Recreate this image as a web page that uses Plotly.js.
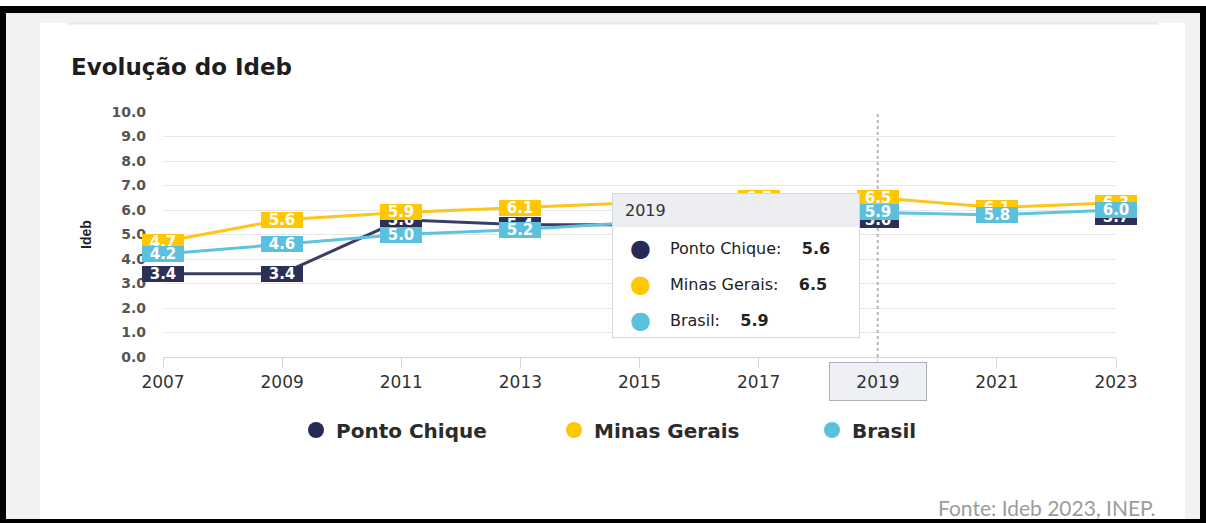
<!DOCTYPE html>
<html>
<head>
<meta charset="utf-8">
<script src="https://cdn.plot.ly/plotly-3.0.1.min.js"></script>
<style>
html,body{margin:0;padding:0;background:#fff;}
#chart{width:1206px;height:523px;}
</style>
</head>
<body>
<div id="chart"></div>
<script>
// ---- data ----
const years = [2007, 2009, 2011, 2013, 2015, 2017, 2019, 2021, 2023];
const yearLabels = ["2007", "2009", "2011", "2013", "2015", "2017", "2019", "2021", "2023"];
const pontoChique = [3.4, 3.4, 5.6, 5.4, 5.4, 5.6, 5.6, null, 5.7];
const minasGerais = [4.7, 5.6, 5.9, 6.1, 6.3, 6.5, 6.5, 6.1, 6.3];
const brasil = [4.2, 4.6, 5.0, 5.2, 5.5, 5.8, 5.9, 5.8, 6.0];
const seriesNames = ["Ponto Chique", "Minas Gerais", "Brasil"];
const yTicks = [0, 1, 2, 3, 4, 5, 6, 7, 8, 9, 10];
const hoverYear = 2019;

// ---- styles ----
const W = 1206, H = 523;
const px = v => v / W;
const py = v => 1 - v / H;
const lineColors = ["#3b3e64", "#ffc61a", "#5fc2de"];
const boxColors = ["#2d3056", "#ffc700", "#5bc0dd"];
const legendColors = ["#252b56", "#ffc700", "#5bc0dd"];
const seriesData = [pontoChique, minasGerais, brasil];
const SANS = "DejaVu Sans, Verdana, sans-serif";

const traces = seriesData.map((vals, i) => ({
  x: years, y: vals, type: "scatter", mode: "lines",
  name: seriesNames[i], showlegend: false, hoverinfo: "skip",
  connectgaps: false, cliponaxis: false,
  line: {color: lineColors[i], width: 3}
}));
seriesData.forEach((vals, i) => traces.push({
  x: [null], y: [null], type: "scatter", mode: "markers",
  name: seriesNames[i], showlegend: true, hoverinfo: "skip",
  marker: {color: legendColors[i], size: 16}
}));

const annotations = [];
// data labels
seriesData.forEach((vals, i) => {
  vals.forEach((v, j) => {
    if (v === null) return;
    annotations.push({
      x: years[j], y: v, xref: "x", yref: "y", showarrow: false,
      xanchor: "center", yanchor: "middle",
      text: v.toFixed(1), width: 40, height: 14, borderpad: 1,
      bgcolor: boxColors[i], borderwidth: 0,
      font: {family: SANS, size: 15, color: "#ffffff", weight: "bold"}
    });
  });
});
// title
annotations.push({
  x: px(69), y: py(67), xref: "paper", yref: "paper", showarrow: false,
  xanchor: "left", yanchor: "middle", text: "Evolução do Ideb",
  font: {family: SANS, size: 23, color: "#1e1e1e", weight: "bold"}
});
// footer
annotations.push({
  x: px(1158), y: py(507), xref: "paper", yref: "paper", showarrow: false,
  xanchor: "right", yanchor: "middle", text: "Fonte: Ideb 2023, INEP.",
  font: {family: "Lato, sans-serif", size: 21, color: "#9c9c9c"}
});
// crosshair x label
const hi = years.indexOf(hoverYear);
annotations.push({
  x: hoverYear, y: py(381), xref: "x", yref: "paper", showarrow: false,
  xanchor: "center", yanchor: "middle", text: yearLabels[hi],
  width: 96, height: 37, borderpad: 0, borderwidth: 1,
  bordercolor: "#a9b0b8", bgcolor: "#eef0f3",
  font: {family: SANS, size: 17, color: "#333333"}
});
// tooltip box
annotations.push({
  x: px(612), y: py(193), xref: "paper", yref: "paper", showarrow: false,
  xanchor: "left", yanchor: "top", text: "\u00a0",
  width: 246, height: 143, borderpad: 0, borderwidth: 1,
  bordercolor: "#d3d7dc", bgcolor: "#ffffff"
});
annotations.push({
  x: px(613), y: py(194), xref: "paper", yref: "paper", showarrow: false,
  xanchor: "left", yanchor: "top", text: "\u00a0",
  width: 246, height: 33, borderpad: 0, borderwidth: 0, bgcolor: "#eceef1"
});
annotations.push({
  x: px(623), y: py(210), xref: "paper", yref: "paper", showarrow: false,
  xanchor: "left", yanchor: "middle", text: String(hoverYear),
  font: {family: SANS, size: 16, color: "#333333"}
});
const rowY = [248, 284, 320];
seriesData.forEach((vals, i) => {
  annotations.push({
    x: px(640), y: py(rowY[i]), xref: "paper", yref: "paper", showarrow: false,
    xanchor: "center", yanchor: "middle", text: "\u25cf",
    font: {family: SANS, size: 24, color: legendColors[i]}
  });
  annotations.push({
    x: px(668), y: py(rowY[i]), xref: "paper", yref: "paper", showarrow: false,
    xanchor: "left", yanchor: "middle",
    text: seriesNames[i] + ":\u00a0\u00a0\u00a0\u00a0<b>" + vals[hi].toFixed(1) + "</b>",
    font: {family: SANS, size: 16, color: "#222222"}
  });
});

const shapes = [
  // page frame
  {type: "rect", xref: "paper", yref: "paper", layer: "below", x0: px(0), x1: px(1206), y0: py(6), y1: py(523), fillcolor: "#000000", line: {width: 0}},
  {type: "rect", xref: "paper", yref: "paper", layer: "below", x0: px(6), x1: px(1200), y0: py(13), y1: py(519), fillcolor: "#f1f2f4", line: {width: 0}},
  {type: "rect", xref: "paper", yref: "paper", layer: "below", x0: px(40), x1: px(1185), y0: py(23), y1: py(519), fillcolor: "#ffffff", line: {width: 0}},
  {type: "line", xref: "paper", yref: "paper", layer: "below", x0: px(68), x1: px(1158), y0: py(23.5), y1: py(23.5), line: {color: "#e6e8eb", width: 2}},
  // crosshair
  {type: "line", xref: "x", yref: "y", layer: "above", x0: hoverYear, x1: hoverYear, y0: 0, y1: 10, line: {color: "#b8b8b8", width: 2, dash: "dot"}}
];

const layout = {
  width: W, height: H,
  margin: {l: 0, r: 0, t: 0, b: 0},
  paper_bgcolor: "#ffffff", plot_bgcolor: "rgba(0,0,0,0)",
  showlegend: true,
  legend: {
    orientation: "h", x: px(296), y: py(430), xanchor: "left", yanchor: "middle",
    entrywidth: 213, entrywidthmode: "pixels", bgcolor: "rgba(0,0,0,0)",
    font: {family: SANS, size: 20, color: "#2b2b2b", weight: "bold"}
  },
  xaxis: {
    domain: [px(163), px(1116)], range: [2007, 2023], anchor: "y",
    tickvals: years, ticktext: yearLabels,
    showgrid: false, zeroline: false, showline: true, linecolor: "#ccd6eb", linewidth: 1,
    ticks: "outside", ticklen: 10, tickcolor: "#ccd6eb", tickwidth: 1,
    tickfont: {family: SANS, size: 17, color: "#333333"},
    fixedrange: true
  },
  yaxis: {
    domain: [py(357), py(112)], range: [0, 10], anchor: "x",
    tickvals: yTicks, tickformat: ".1f",
    showgrid: true, gridcolor: "#e6e6e6", gridwidth: 1, zeroline: false, showline: false,
    ticks: "", ticklabelstandoff: 16,
    tickfont: {family: SANS, size: 14, color: "#555555", weight: "bold"},
    title: {text: "Ideb", standoff: 16, font: {family: "Liberation Sans, Arial, sans-serif", size: 14, color: "#222222", weight: "bold"}},
    fixedrange: true
  },
  annotations: annotations,
  shapes: shapes
};

Plotly.newPlot("chart", traces, layout, {displayModeBar: false, staticPlot: true});
</script>
</body>
</html>
